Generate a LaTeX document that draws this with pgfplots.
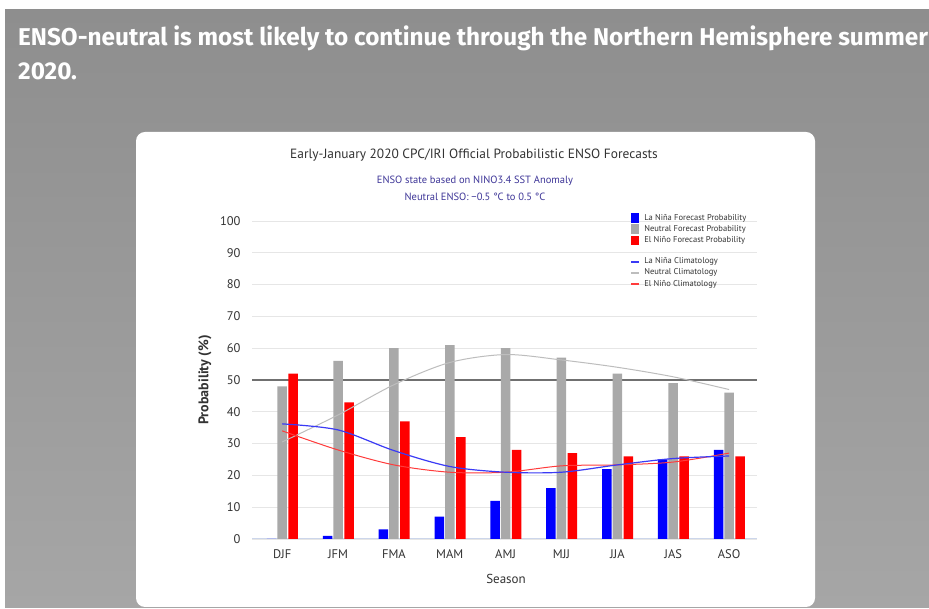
\documentclass[border=0pt]{standalone}
\usepackage{pgfplots}
\pgfplotsset{compat=1.18}
\usepackage{fontspec}
\setmainfont{PT Sans}
\newfontfamily\headfont{Fira Sans}
\definecolor{bgtop}{HTML}{8E8E8E}
\definecolor{bgbot}{HTML}{A6A6A6}
\definecolor{ttl}{HTML}{333333}
\definecolor{subt}{HTML}{3E3698}
\definecolor{gridc}{HTML}{E6E6E6}
\definecolor{axc}{HTML}{CCD6EB}
\definecolor{ninaB}{HTML}{0000FF}
\definecolor{neutG}{HTML}{A9A9A9}
\definecolor{ninoR}{HTML}{FF0000}
\definecolor{climB}{HTML}{3A3AF5}
\definecolor{climG}{HTML}{BDBDBD}
\definecolor{climR}{HTML}{FF3B3B}
\definecolor{refl}{HTML}{707070}
\begin{document}
\begin{tikzpicture}[x=1pt,y=1pt]
\useasboundingbox (0,0) rectangle (929,609);
\fill[white] (0,0) rectangle (929,609);
\shade[top color=bgtop, bottom color=bgbot] (5,1) rectangle (929,599);
\fill[white, rounded corners=9pt] (136,2) rectangle (815,477);
\node[anchor=base west, inner sep=0pt, text=white, font=\headfont\bfseries\fontsize{24.3}{28}\selectfont] at (18,563) {ENSO-neutral is most likely to continue through the Northern Hemisphere summer};
\node[anchor=base west, inner sep=0pt, text=white, font=\headfont\bfseries\fontsize{24.3}{28}\selectfont] at (18,529) {2020.};
\node[anchor=base, inner sep=0pt, text=ttl, font=\fontsize{13.4}{15}\selectfont] at (474,450) {Early-January 2020 CPC/IRI Official Probabilistic ENSO Forecasts};
\node[anchor=base, inner sep=0pt, text=subt, font=\fontsize{10.5}{12}\selectfont] at (475,425) {ENSO state based on NINO3.4 SST Anomaly};
\node[anchor=base, inner sep=0pt, text=subt, font=\fontsize{10.5}{12}\selectfont] at (475,408) {Neutral ENSO: −0.5 °C to 0.5 °C};
\begin{axis}[
  at={(252pt,70pt)}, anchor=south west,
  scale only axis, width=505pt, height=318pt,
  xmin=-0.54, xmax=8.5, ymin=0, ymax=100,
  xtick={0,...,8},
  xticklabels={DJF,JFM,FMA,MAM,AMJ,MJJ,JJA,JAS,ASO},
  ytick={0,10,...,100},
  /pgf/number format/assume math mode=true,
  major tick length=0pt,
  axis x line*=bottom, axis y line*=left,
  x axis line style={draw=axc, line width=1pt, -},
  y axis line style={draw=none},
  ymajorgrids, grid style={draw=gridc, line width=0.8pt},
  tick label style={text=ttl, font=\fontsize{12.5}{14}\selectfont},
  xticklabel style={yshift=-7pt},
  yticklabel style={xshift=-8pt},
  xlabel={Season},
  ylabel={\bfseries Probability (\%)},
  every axis x label/.style={at={(axis description cs:0.503,-0.126)}, anchor=center, text=ttl, font=\fontsize{13}{15}\selectfont},
  every axis y label/.style={at={(axis description cs:-0.093,0.5)}, anchor=center, rotate=90, text=ttl, font=\fontsize{14}{16}\selectfont},
  legend style={at={(axis description cs:0.751,1.027)}, anchor=north west, draw=none, fill=none, text=ttl, font=\fontsize{8.5}{10}\selectfont, row sep=0.6pt, inner sep=0pt, nodes={inner sep=1.5pt}},
  legend cell align=left,
]
\addlegendimage{legend image code/.code={\fill[white,opacity=0] (0pt,-0.1pt) rectangle (11pt,0.1pt);\fill[ninaB] (0pt,-4pt) rectangle (7pt,4.5pt);}}
\addlegendentry{La Niña Forecast Probability}
\addlegendimage{legend image code/.code={\fill[white,opacity=0] (0pt,-0.1pt) rectangle (11pt,0.1pt);\fill[neutG] (0pt,-4pt) rectangle (7pt,4.5pt);}}
\addlegendentry{Neutral Forecast Probability}
\addlegendimage{legend image code/.code={\fill[white,opacity=0] (0pt,-0.1pt) rectangle (11pt,0.1pt);\fill[ninoR] (0pt,-4pt) rectangle (7pt,4.5pt);}}
\addlegendentry{El Niño Forecast Probability}
\addlegendimage{empty legend}
\addlegendentry{\rule{0pt}{5pt}}
\addlegendimage{legend image code/.code={\fill[white,opacity=0] (0pt,-0.1pt) rectangle (11pt,0.1pt);\fill[climB] (0pt,-0.6pt) rectangle (7pt,0.6pt);}}
\addlegendentry{La Niña Climatology}
\addlegendimage{legend image code/.code={\fill[white,opacity=0] (0pt,-0.1pt) rectangle (11pt,0.1pt);\fill[climG] (0pt,-0.6pt) rectangle (7pt,0.6pt);}}
\addlegendentry{Neutral Climatology}
\addlegendimage{legend image code/.code={\fill[white,opacity=0] (0pt,-0.1pt) rectangle (11pt,0.1pt);\fill[climR] (0pt,-0.6pt) rectangle (7pt,0.6pt);}}
\addlegendentry{El Niño Climatology}
% 50% reference line
\addplot[refl, line width=2pt, forget plot] coordinates {(-0.54,50) (8.5,50)};
% bars
\addplot[ybar, bar width=9.5pt, bar shift=-10.5pt, fill=ninaB, draw=none, forget plot] coordinates {
(0,0) (1,1) (2,3) (3,7) (4,12) (5,16) (6,22) (7,25) (8,28)};
\addplot[ybar, bar width=9.5pt, bar shift=0pt, fill=neutG, draw=none, forget plot] coordinates {
(0,48) (1,56) (2,60) (3,61) (4,60) (5,57) (6,52) (7,49) (8,46)};
\addplot[ybar, bar width=9.5pt, bar shift=11pt, fill=ninoR, draw=none, forget plot] coordinates {
(0,52) (1,43) (2,37) (3,32) (4,28) (5,27) (6,26) (7,26) (8,26)};
% climatology curves
\addplot[climG, line width=1pt, smooth, forget plot] coordinates {
(0,30.5) (1,39) (2,48.5) (3,55.5) (4,58) (5,56.3) (6,54) (7,51) (8,47)};
\addplot[climR, line width=1pt, smooth, forget plot] coordinates {
(0,34) (1,28) (2,23.3) (3,21) (4,21) (5,23) (6,23.3) (7,24.2) (8,27)};
\addplot[climB, line width=1.2pt, smooth, forget plot] coordinates {
(0,36.2) (1,34.3) (2,27.8) (3,22.8) (4,21) (5,21) (6,23.3) (7,25.3) (8,26.1)};
\end{axis}
\end{tikzpicture}
\end{document}
